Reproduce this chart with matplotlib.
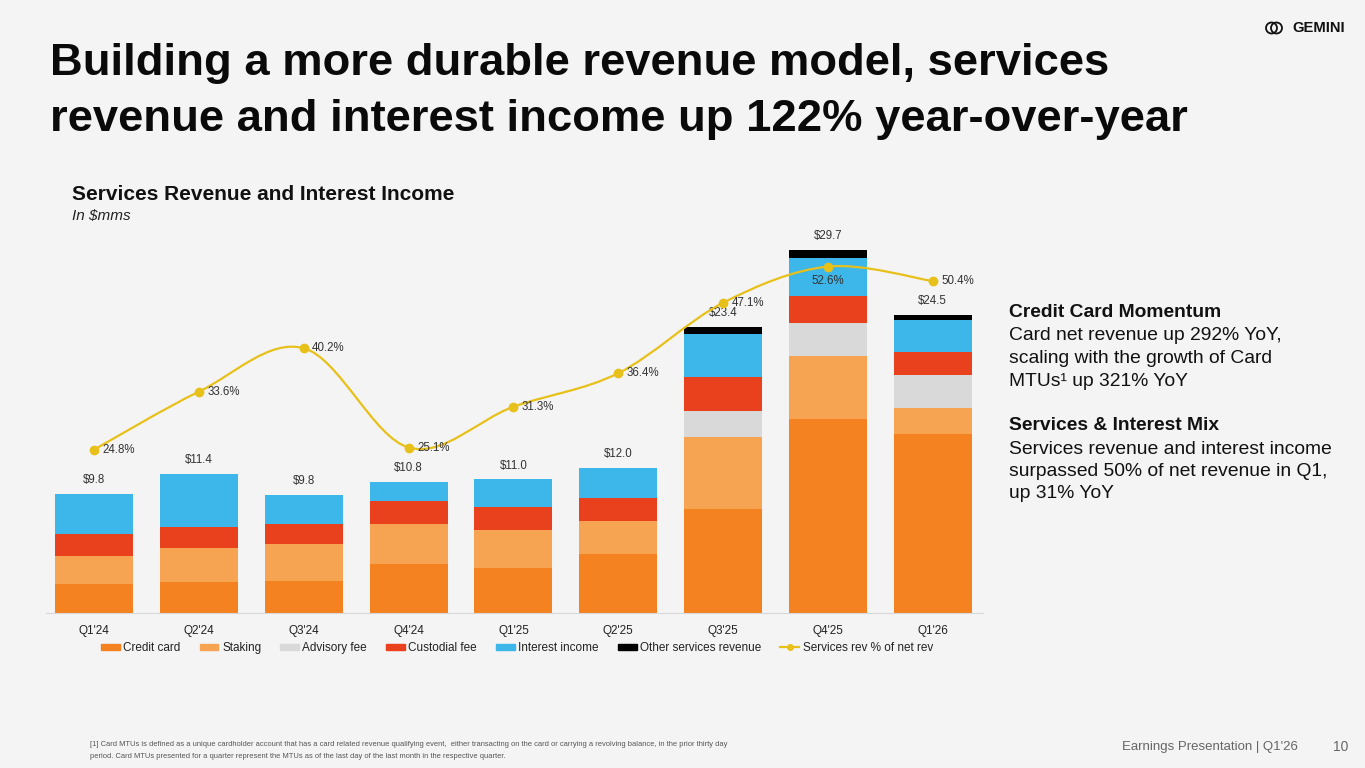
import numpy as np
import matplotlib.pyplot as plt
from matplotlib.path import Path
from matplotlib.patches import PathPatch, Circle
from matplotlib.lines import Line2D
from matplotlib.patches import Patch

plt.rcParams['font.family'] = ['Liberation Sans', 'DejaVu Sans']

quarters = ["Q1'24", "Q2'24", "Q3'24", "Q4'24", "Q1'25", "Q2'25", "Q3'25", "Q4'25", "Q1'26"]
credit_card = [2.34, 2.52, 2.56, 3.98, 3.65, 4.84, 8.48, 15.90, 14.65]
staking = [2.30, 2.82, 3.08, 3.28, 3.11, 2.65, 5.93, 5.11, 2.13]
advisory = [0, 0, 0, 0, 0, 0, 2.11, 2.71, 2.73]
custodial = [1.83, 1.66, 1.61, 1.89, 1.89, 1.89, 2.84, 2.21, 1.86]
interest = [3.28, 4.34, 2.43, 1.56, 2.27, 2.52, 3.52, 3.11, 2.65]
other = [0, 0, 0, 0, 0, 0, 0.57, 0.68, 0.41]
totals = ["$9.8", "$11.4", "$9.8", "$10.8", "$11.0", "$12.0", "$23.4", "$29.7", "$24.5"]
pct = [24.8, 33.6, 40.2, 25.1, 31.3, 36.4, 47.1, 52.6, 50.4]

series = [("Credit card", credit_card, '#F58220'),
          ("Staking", staking, '#F7A452'),
          ("Advisory fee", advisory, '#D9D9D9'),
          ("Custodial fee", custodial, '#E9401D'),
          ("Interest income", interest, '#3DB6E9'),
          ("Other services revenue", other, '#000000')]
line_col = '#E8C01A'
bg = '#F4F4F4'

W, H = 1365, 768
def fx(x): return x / W
def fy(y): return 1 - y / H

fig = plt.figure(figsize=(13.65, 7.68), dpi=100, facecolor=bg)

# chart area in pixels
left, right, top, base = 46, 983, 230, 612.7
ax = fig.add_axes([fx(left), fy(base), (right - left) / W, (base - top) / H])
ax.set_facecolor(bg)
x = np.arange(len(quarters))
bottom = np.zeros(len(quarters))
for name, vals, col in series:
    ax.bar(x, vals, 0.745, bottom=bottom, color=col, label=name, zorder=2)
    bottom += np.array(vals)
for i, t in enumerate(totals):
    ax.annotate(t, (x[i], bottom[i]), xytext=(0, 10), textcoords='offset points',
                ha='center', va='center', fontsize=8.3, color='#333333')
ax.set_xlim(-0.46, 8.48)
ax.set_ylim(0, (base - top) / 12.2)
ax.set_xticks(x)
ax.set_xticklabels(quarters, fontsize=8.5, color='#222222')
ax.tick_params(axis='x', length=0, pad=9)
ax.set_yticks([])
for s in ['top', 'left', 'right']:
    ax.spines[s].set_visible(False)
ax.spines['bottom'].set_color('#D8D8D8')

ax2 = ax.twinx()
ax2.set_ylim(0, (base - top) / 6.58)
ax2.set_yticks([])
for s in ax2.spines.values():
    s.set_visible(False)

# smooth line through the points (Catmull-Rom as bezier segments)
pts = np.column_stack([x, pct]).astype(float)
ext = np.vstack([pts[0], pts, pts[-1]])
verts = [tuple(pts[0])]
codes = [Path.MOVETO]
for i in range(len(pts) - 1):
    p0, p1, p2, p3 = ext[i], ext[i + 1], ext[i + 2], ext[i + 3]
    c1 = p1 + (p2 - p0) / 6
    c2 = p2 - (p3 - p1) / 6
    verts += [tuple(c1), tuple(c2), tuple(p2)]
    codes += [Path.CURVE4] * 3
ax2.add_patch(PathPatch(Path(verts, codes), fill=False, edgecolor=line_col, lw=1.6, zorder=3))
ax2.plot(x, pct, 'o', color=line_col, ms=6, zorder=4)
for i, p in enumerate(pct):
    if i == 7:
        ax2.annotate(f"{p}%", (x[i], p), xytext=(0, -10.5), textcoords='offset points',
                     ha='center', va='center', fontsize=8.3, color='#333333')
    else:
        ax2.annotate(f"{p}%", (x[i], p), xytext=(6, 0), textcoords='offset points',
                     ha='left', va='center', fontsize=8.3, color='#333333')

handles = [Patch(color=c, label=n) for n, _, c in series]
handles.append(Line2D([0], [0], color=line_col, marker='o', ms=4, lw=1.6,
                      label="Services rev % of net rev"))
fig.legend(handles=handles, loc='center', bbox_to_anchor=(fx(517), fy(648)), ncol=7,
           frameon=False, fontsize=8.5, handlelength=1.6, handleheight=0.45,
           handletextpad=0.3, columnspacing=1.6, labelcolor='#222222')

# titles
fig.text(fx(50), fy(63), "Building a more durable revenue model, services",
         fontsize=32.7, fontweight='bold', color='#0A0A0A', va='center')
fig.text(fx(50), fy(119), "revenue and interest income up 122% year-over-year",
         fontsize=32.7, fontweight='bold', color='#0A0A0A', va='center')
fig.text(fx(72), fy(195), "Services Revenue and Interest Income",
         fontsize=15, fontweight='bold', color='#111111', va='center')
fig.text(fx(72), fy(216), "In $mms", fontsize=11, style='italic',
         color='#222222', va='center')

# right side commentary
right_lines = [("Credit Card Momentum", 'bold', 312.7),
               ("Card net revenue up 292% YoY,", 'normal', 336),
               ("scaling with the growth of Card", 'normal', 358.5),
               ("MTUs\u00b9 up 321% YoY", 'normal', 381),
               ("Services & Interest Mix", 'bold', 426),
               ("Services revenue and interest income", 'normal', 449),
               ("surpassed 50% of net revenue in Q1,", 'normal', 471.7),
               ("up 31% YoY", 'normal', 494)]
for txt, w, yy in right_lines:
    fig.text(fx(1009), fy(yy), txt, fontsize=13.9, fontweight=w, color='#111111', va='center')

# logo
for dx in (-2.5, 2.5):
    fig.add_artist(Circle(((1274 + dx) / 100, (H - 28) / 100), 0.055, fill=False,
                          lw=1.3, edgecolor='#111111', transform=fig.dpi_scale_trans))
fig.text(fx(1292), fy(28), "GEMINI", fontsize=10.6, fontweight='bold', color='#111111', va='center')

# footer
fig.text(fx(90), fy(745), "[1] Card MTUs is defined as a unique cardholder account that has a card related revenue "
         "qualifying event,  either transacting on the card or carrying a revolving balance, in the prior thirty day",
         fontsize=5.45, color='#555555', va='center')
fig.text(fx(90), fy(756), "period. Card MTUs presented for a quarter represent the MTUs as of the last day of the "
         "last month in the respective quarter.", fontsize=5.45, color='#555555', va='center')
fig.text(fx(1122), fy(747), "Earnings Presentation | Q1'26", fontsize=9.5, color='#666666', va='center')
fig.text(fx(1348), fy(747), "10", fontsize=10, color='#666666', va='center', ha='right')

fig.savefig('out.png', dpi=100, facecolor=bg)
